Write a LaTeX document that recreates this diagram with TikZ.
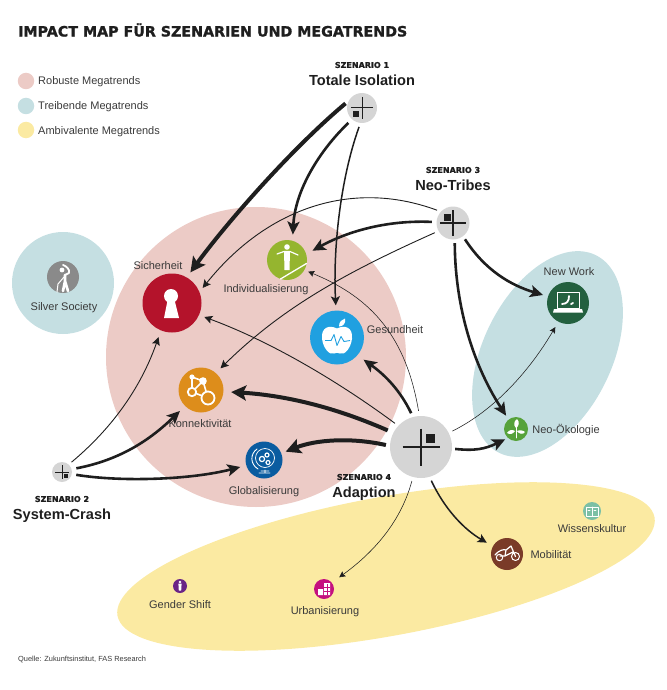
\documentclass[tikz,border=0pt]{standalone}
\usepackage{fontspec}
\setmainfont{Liberation Sans}
\newfontfamily\TitleFont[BoldFeatures={FakeBold=1.3}]{DejaVu Sans}
\usetikzlibrary{arrows.meta,shapes.geometric}
\definecolor{RobustColor}{HTML}{ECCBC6}
\definecolor{DriveColor}{HTML}{C5DFE2}
\definecolor{AmbiColor}{HTML}{FBEAA2}
\definecolor{MarkColor}{HTML}{D5D5D5}
\definecolor{InkColor}{HTML}{1E1E1E}
\definecolor{LabelColor}{HTML}{3A3A3A}
\definecolor{AppleColor}{HTML}{20A0E0}
\definecolor{NetColor}{HTML}{DD8D1B}
\definecolor{CityColor}{HTML}{C4107F}
\tikzset{
    trendgroup/.style={ellipse,inner sep=0pt},
    trend/.style={circle,inner sep=0pt,minimum size=#1},
    scenario/.style={circle,fill=MarkColor,inner sep=0pt,minimum size=#1},
    trendlabel/.style={text=LabelColor,font=\fontsize{11}{13}\selectfont,inner sep=0pt,text height=8pt,text depth=0pt},
    legendlabel/.style={trendlabel,anchor=west},
    scenariosmall/.style={text=InkColor,font=\TitleFont\bfseries\fontsize{8}{9}\selectfont,inner sep=0pt},
    scenariobig/.style={text=InkColor,font=\bfseries\fontsize{14.6}{17}\selectfont,inner sep=0pt,text height=10.5pt,text depth=0pt},
    linkA/.style={draw=InkColor,line width=4pt,-{Stealth[length=15pt,width=15pt,inset=3pt]}},
    linkB/.style={draw=InkColor,line width=2.6pt,-{Stealth[length=13pt,width=12pt,inset=3pt]}},
    linkC/.style={draw=InkColor,line width=1.5pt,-{Stealth[length=9pt,width=9pt,inset=2pt]}},
    linkD/.style={draw=InkColor,line width=0.9pt,-{Stealth[length=8pt,width=8pt,inset=1.5pt]}},
    linkE/.style={draw=InkColor,line width=0.55pt,-{Stealth[length=6pt,width=6pt,inset=1pt]}},
    glyph/.style={draw=white,line width=#1,line cap=round,line join=round},
    glyph/.default=1pt,
}
% scenario circle with its cross and small square
\newcommand\ScenarioMark[9]{%
    \node[scenario=#4] (#1) at (#2,#3) {};
    \begin{scope}[shift={(#1.center)}]
        \draw[InkColor,line width=#9] (-#5,0) -- (#5,0) (0,-#5) -- (0,#5);
        \fill[InkColor] ({#6-#8/2},{#7-#8/2}) rectangle +(#8,#8);
    \end{scope}
}
\newcommand\ScenarioHead[5]{%
    \node[scenariosmall] (#1Small) at (#2,#3) {#4};
    \node[scenariobig] (#1Big) at (#2,{#3+15}) {#5};
}
\begin{document}
\begin{tikzpicture}[x=1pt,y=-1pt]
    \useasboundingbox (0,0) rectangle (666,690);
    \node[text=InkColor,font=\TitleFont\bfseries\fontsize{14.25}{17}\selectfont,anchor=west,inner sep=0pt] (Title) at (18,30) {IMPACT MAP FÜR SZENARIEN UND MEGATRENDS};

    % legend
    \node[trend=16.5pt,fill=RobustColor] (LegendRobust) at (26,81) {};
    \node[trend=16.5pt,fill=DriveColor] (LegendDrive) at (26,106) {};
    \node[trend=16.5pt,fill=AmbiColor] (LegendAmbi) at (26,130) {};
    \node[legendlabel] at (38,81) {Robuste Megatrends};
    \node[legendlabel] at (38,106) {Treibende Megatrends};
    \node[legendlabel] at (38,130) {Ambivalente Megatrends};

    % groups
    \node[trendgroup,fill=RobustColor,minimum width=300pt,minimum height=300pt] (RobustGroup) at (256,357) {};
    \node[trendgroup,fill=DriveColor,minimum width=102pt,minimum height=102pt] (SilverGroup) at (63,283) {};
    \node[trendgroup,fill=DriveColor,minimum width=220pt,minimum height=129pt,rotate=64] (DriveGroup) at (547.5,354) {};
    \node[trendgroup,fill=AmbiColor,minimum width=546pt,minimum height=139pt,rotate=10.4] (AmbiGroup) at (386,566.5) {};

    % trends
    \node[trend=59pt,fill={rgb,255:red,180;green,19;blue,43}] (Sicherheit) at (172,303) {};
    \node[trend=40pt,fill={rgb,255:red,149;green,181;blue,47}] (Individual) at (287,260) {};
    \node[trend=54pt,fill=AppleColor] (Gesundheit) at (337,337.5) {};
    \node[trend=45pt,fill=NetColor] (Konnekt) at (201,390) {};
    \node[trend=37pt,fill={rgb,255:red,10;green,92;blue,160}] (Global) at (264,460) {};
    \node[trend=42pt,fill={rgb,255:red,35;green,96;blue,63}] (NewWork) at (568,303) {};
    \node[trend=24pt,fill={rgb,255:red,86;green,162;blue,58}] (NeoOeko) at (516,429) {};
    \node[trend=18pt,fill={rgb,255:red,124;green,192;blue,165}] (Wissen) at (592,511) {};
    \node[trend=32pt,fill={rgb,255:red,122;green,59;blue,40}] (Mobil) at (507,554) {};
    \node[trend=20pt,fill=CityColor] (Urban) at (324,589) {};
    \node[trend=14pt,fill={rgb,255:red,106;green,36;blue,134}] (Gender) at (180,586) {};
    \node[trend=32pt,fill={rgb,255:red,138;green,138;blue,138}] (Silver) at (63,277) {};

    % icons
    \begin{scope}[shift={(Sicherheit.center)}] % keyhole
        \fill[white] (-1,-7) circle (7);
        \fill[white] (-4,-5) -- (2,-5) -- (7,15) -- (-8,15) -- cycle;
    \end{scope}
    \begin{scope}[shift={(Individual.center)}] % tightrope
        \fill[white] (0,-13) circle (2.8);
        \draw[glyph=1.2pt] (-10,-6) -- (-3,-8.5) -- (3,-8.5) -- (11,-5);
        \fill[white] (-3,-8.5) -- (3,-8.5) -- (2.5,10) -- (-2.5,10) -- cycle;
        \draw[glyph=1.3pt] (-6.5,19) -- (19.5,3.5);
    \end{scope}
    \begin{scope}[shift={(Gesundheit.center)}] % apple
        \fill[white] (0,-9) .. controls (8,-13) and (16,-10) .. (15,1) .. controls (14,10) and (8,18) .. (3,16) .. controls (1,15) and (-1,15) .. (-3,16) .. controls (-8,18) and (-14,10) .. (-15,1) .. controls (-16,-10) and (-8,-13) .. (0,-9) -- cycle;
        \fill[white] (2,-11) .. controls (2,-16) and (5,-18) .. (8,-19) .. controls (9,-14) and (6,-11) .. (2,-11) -- cycle;
        \draw[line width=0.9pt,AppleColor,line join=round] (-12,3) -- (-6,3) -- (-3,-3) -- (0,8) -- (4,-1) -- (7,4) -- (13,3);
    \end{scope}
    \begin{scope}[shift={(Konnekt.center)}] % network
        \draw[glyph=1.6pt] (-9,-13) -- (2,-9) -- (-9,2) -- cycle (2,-9) -- (7,8) (-9,2) -- (7,8);
        \fill[white] (-9,-13) circle (2.6) (2,-9) circle (3.8);
        \draw[glyph=1.8pt,fill=NetColor] (-9,2) circle (4.2) (7,8) circle (6.5);
    \end{scope}
    \begin{scope}[shift={(Global.center)}] % globe with gears
        \draw[glyph=0.7pt] (1,-2) circle (9.5);
        \draw[glyph=0.9pt] (-7,-11) .. controls (-14,-6) and (-14,4) .. (-6,9) (-3,11) -- (5,11) (-5,13) -- (6,13) (1,10) -- (1,13);
        \draw[glyph=1.2pt] (-2,-1) circle (2.6) (4,2.5) circle (2) (3,-5) circle (2);
    \end{scope}
    \begin{scope}[shift={(NewWork.center)}] % laptop with wrench
        \draw[glyph=0.9pt] (-11,-11) rectangle (11,5);
        \fill[white] (-14,6) -- (14,6) -- (15,9.5) -- (-15,9.5) -- cycle;
        \draw[glyph=1.8pt] (-6,1) .. controls (-1,1) and (1,-2) .. (1,-7) (3,1) -- (5,0);
    \end{scope}
    \begin{scope}[shift={(NeoOeko.center)}] % plant
        \draw[glyph=0.6pt] (0,-4) -- (0,9);
        \fill[white] (0,-1) .. controls (-3,-4) and (-2,-8) .. (1,-10) .. controls (4,-7) and (3,-3) .. (0,-1) -- cycle;
        \fill[white] (-1,2) .. controls (-4,0) and (-7,1) .. (-9,4) .. controls (-6,6) and (-3,5) .. (-1,2) -- cycle;
        \fill[white] (1,2) .. controls (3,1) and (7,1) .. (9,3) .. controls (7,6) and (3,5) .. (1,2) -- cycle;
    \end{scope}
    \begin{scope}[shift={(Wissen.center)}] % book
        \draw[glyph=0.6pt] (-6,-4) rectangle (6,5) (0,-4) -- (0,5) (-4,-1) -- (-2,-1) (2,-1) -- (4,-1);
    \end{scope}
    \begin{scope}[shift={(Mobil.center)}] % bike
        \draw[glyph=1pt] (-7.5,3.5) circle (3.2) (8.5,2.5) circle (4);
        \draw[glyph=1.2pt] (-12,1) .. controls (-8,-4) and (-3,-5) .. (-1,-4) -- (4,-8) -- (8.5,2.5) (-1,-4) -- (-2,2) -- (-7,2) (-2,2) -- (6,-2);
    \end{scope}
    \begin{scope}[shift={(Urban.center)}] % buildings
        \fill[white] (0,-6) rectangle (6,6) (-6,0) rectangle (-1,6);
        \draw[CityColor,line width=0.5pt] (3,-5) -- (3,6) (0,-2) -- (6,-2) (0,2) -- (6,2);
    \end{scope}
    \begin{scope}[shift={(Gender.center)}] % person
        \fill[white] (0,-4) circle (1.3);
        \fill[white] (-1.6,-2.4) -- (1.6,-2.4) -- (1.2,4.5) -- (-1.2,4.5) -- cycle;
    \end{scope}
    \begin{scope}[shift={(Silver.center)}] % old person with cane
        \fill[white] (-1,-7) circle (2.4);
        \draw[glyph=1.8pt] (2,-2) -- (6,-4) .. controls (7,-8) and (3,-11) .. (0,-12);
        \draw[glyph=2.6pt] (2,-2) -- (2,4) -- (0,14) (2,4) -- (5,14);
        \draw[glyph=1pt] (-6,15) -- (-5,7) -- (1,0);
    \end{scope}

    % labels
    \node[trendlabel] (SicherheitLabel) at (158,265) {Sicherheit};
    \node[trendlabel] (IndividualLabel) at (266,288) {Individualisierung};
    \node[trendlabel] (GesundheitLabel) at (395,329) {Gesundheit};
    \node[trendlabel] (KonnektLabel) at (200,423) {Konnektivität};
    \node[trendlabel] (GlobalLabel) at (264,490) {Globalisierung};
    \node[trendlabel] (NewWorkLabel) at (569,271) {New Work};
    \node[trendlabel] (NeoOekoLabel) at (566,429) {Neo-Ökologie};
    \node[trendlabel] (WissenLabel) at (592,528) {Wissenskultur};
    \node[trendlabel] (MobilLabel) at (551,554) {Mobilität};
    \node[trendlabel] (UrbanLabel) at (325,610) {Urbanisierung};
    \node[trendlabel] (GenderLabel) at (180,604) {Gender Shift};
    \node[trendlabel] (SilverLabel) at (64,306) {Silver Society};
    \node[text=LabelColor,font=\fontsize{7.4}{9}\selectfont,anchor=west,inner sep=0pt] (Source) at (18,660) {Quelle: Zukunftsinstitut, FAS Research};

    % scenarios
    \ScenarioMark{ScenA}{362}{108}{30pt}{11}{-6}{6}{6}{1pt}
    \ScenarioMark{ScenC}{453}{223}{33pt}{13}{-6}{-6}{7}{1.1pt}
    \ScenarioMark{ScenD}{421}{447}{62pt}{18.5}{9}{-9}{9}{1.6pt}
    \ScenarioMark{ScenB}{62}{472}{20pt}{7}{4}{4}{4}{0.8pt}
    \ScenarioHead{ScenA}{362}{65}{SZENARIO 1}{Totale Isolation}
    \ScenarioHead{ScenC}{453}{170}{SZENARIO 3}{Neo-Tribes}
    \ScenarioHead{ScenD}{364}{477}{SZENARIO 4}{Adaption}
    \ScenarioHead{ScenB}{62}{499}{SZENARIO 2}{System-Crash}

    % links
    \draw[linkA,shorten <=4pt,shorten >=6pt] (ScenA.152) .. controls (290,150) and (225,225) .. (Sicherheit.60);
    \draw[linkB,shorten <=5pt,shorten >=6pt] (ScenA.229) .. controls (320,150) and (295,190) .. (Individual.74);
    \draw[linkC,shorten <=4pt,shorten >=5pt] (ScenA.264) .. controls (340,180) and (333,250) .. (Gesundheit.92);
    \draw[linkD,shorten <=4pt,shorten >=5pt] (ScenC.137) .. controls (350,178) and (265,210) .. (Sicherheit.22);
    \draw[linkB,shorten <=4.5pt,shorten >=7pt] (ScenC.177) .. controls (390,220) and (350,230) .. (Individual.17);
    \draw[linkD,shorten <=4pt,shorten >=6.5pt] (ScenC.209) .. controls (340,275) and (280,310) .. (Konnekt.49);
    \draw[linkB,shorten <=3.5pt,shorten >=5pt] (ScenC.-53) .. controls (485,270) and (510,285) .. (NewWork.162);
    \draw[linkB,shorten <=3.5pt,shorten >=4.4pt] (ScenC.-84) .. controls (455,300) and (470,360) .. (NeoOeko.128);
    \draw[linkB,shorten <=4pt,shorten >=7.4pt] (ScenD.105) .. controls (400,390) and (385,375) .. (Gesundheit.-41);
    \draw[linkE,shorten <=5pt,shorten >=4pt] (ScenD.93) .. controls (405,330) and (365,295) .. (Individual.-30);
    \draw[linkD,shorten <=4pt,shorten >=5.5pt] (ScenD.137) .. controls (350,390) and (280,345) .. (Sicherheit.-24);
    \draw[linkA,shorten <=6pt,shorten >=7.5pt] (ScenD.153) .. controls (330,405) and (280,395) .. (Konnekt.-4);
    \draw[linkA,shorten <=4pt,shorten >=4.5pt] (ScenD.178) .. controls (350,437) and (315,440) .. (Global.21);
    \draw[linkB,shorten <=3pt,shorten >=3pt] (ScenD.-3) .. controls (475,451) and (485,449) .. (NeoOeko.228);
    \draw[linkE,shorten <=4pt,shorten >=6pt] (ScenD.27) .. controls (495,410) and (530,370) .. (NewWork.243);
    \draw[linkC,shorten <=4pt,shorten >=7pt] (ScenD.-74) .. controls (445,510) and (465,530) .. (Mobil.151);
    \draw[linkE,shorten <=4pt,shorten >=9pt] (ScenD.255) .. controls (400,525) and (370,555) .. (Urban.39);
    \draw[linkD,shorten <=3.5pt,shorten >=7pt] (ScenB.48) .. controls (110,430) and (140,390) .. (Sicherheit.248);
    \draw[linkB,shorten <=4.6pt,shorten >=7pt] (ScenB.16) .. controls (120,460) and (150,440) .. (Konnekt.225);
    \draw[linkB,shorten <=4.3pt,shorten >=6pt] (ScenB.-12) .. controls (120,482) and (190,480) .. (Global.197);
\end{tikzpicture}
\end{document}
